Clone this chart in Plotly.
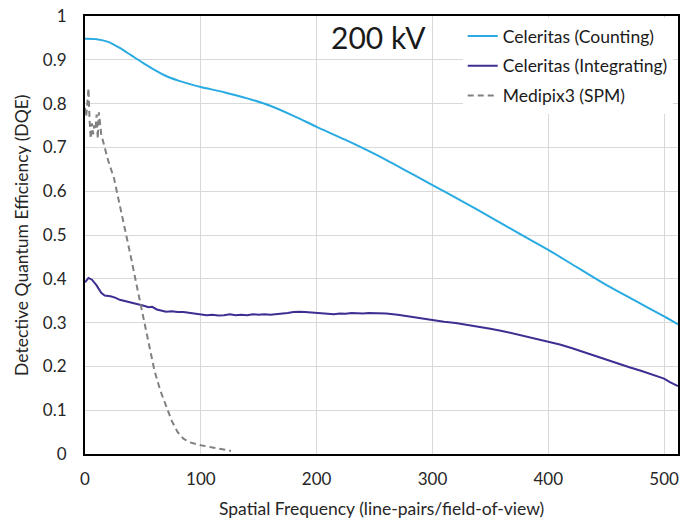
import plotly.graph_objects as go

# Celeritas (Counting)
count_x = [0, 10, 20, 30, 40, 50, 60, 70, 80, 90, 100, 120, 140, 160, 180, 200,
           225, 250, 275, 300, 325, 350, 375, 400, 425, 450, 475, 500, 512]
count_y = [0.948, 0.947, 0.941, 0.927, 0.910, 0.893, 0.877, 0.863, 0.853, 0.845, 0.838,
           0.826, 0.812, 0.795, 0.772, 0.747, 0.717, 0.685, 0.650, 0.614, 0.578, 0.541,
           0.503, 0.466, 0.426, 0.386, 0.350, 0.314, 0.296]

# Celeritas (Integrating)
integ_x = [0, 3, 6, 10, 14, 17, 22, 26, 30, 35, 40, 45, 50, 55, 58, 62, 66, 70, 75, 80,
           85, 90, 95, 100, 105, 110, 115, 120, 125, 130, 135, 140, 145, 150, 155, 160,
           165, 170, 175, 180, 185, 190, 195, 200, 205, 210, 215, 220, 225, 230, 235,
           240, 245, 250, 255, 260, 270, 280, 290, 300, 310, 320, 330, 340, 350, 360,
           370, 380, 390, 400, 410, 420, 430, 440, 450, 460, 470, 480, 490, 495, 500,
           505, 512]
integ_y = [0.392, 0.402, 0.398, 0.385, 0.368, 0.362, 0.360, 0.357, 0.352, 0.349, 0.346,
           0.342, 0.339, 0.335, 0.336, 0.330, 0.327, 0.325, 0.326, 0.324, 0.324, 0.322,
           0.320, 0.318, 0.317, 0.318, 0.316, 0.317, 0.319, 0.317, 0.318, 0.317, 0.319,
           0.318, 0.319, 0.318, 0.319, 0.321, 0.322, 0.324, 0.325, 0.324, 0.323, 0.323,
           0.321, 0.320, 0.319, 0.321, 0.320, 0.322, 0.321, 0.321, 0.322, 0.322, 0.321,
           0.321, 0.318, 0.314, 0.309, 0.305, 0.302, 0.299, 0.295, 0.291, 0.286, 0.281,
           0.275, 0.269, 0.263, 0.257, 0.250, 0.242, 0.233, 0.224, 0.215, 0.207, 0.198,
           0.190, 0.181, 0.176, 0.172, 0.164, 0.155]

# Medipix3 (SPM)
medi_x = [0, 1, 2, 3, 4, 5, 6, 7, 8, 9, 10, 11, 12, 13, 14, 15, 16, 18, 20, 25, 30,
          35, 40, 45, 50, 55, 60, 65, 70, 75, 80, 85, 90, 95, 100, 110, 120, 126]
medi_y = [0.79, 0.77, 0.80, 0.835, 0.76, 0.72, 0.755, 0.73, 0.75, 0.74, 0.775, 0.72,
          0.78, 0.75, 0.73, 0.72, 0.71, 0.69, 0.67, 0.63, 0.57, 0.51, 0.445, 0.38,
          0.315, 0.25, 0.19, 0.145, 0.108, 0.075, 0.05, 0.035, 0.027, 0.023, 0.02,
          0.015, 0.01, 0.007]

x_ticks = [0, 100, 200, 300, 400, 500]
y_ticks = [0, 0.1, 0.2, 0.3, 0.4, 0.5, 0.6, 0.7, 0.8, 0.9, 1]
y_tick_text = ["0", "0.1", "0.2", "0.3", "0.4", "0.5", "0.6", "0.7", "0.8", "0.9", "1"]

x_title = "Spatial Frequency (line-pairs/field-of-view)"
y_title = "Detective Quantum Efficiency (DQE)"

FONT = "Lato, Open Sans, sans-serif"

fig = go.Figure()
fig.add_trace(go.Scatter(x=count_x, y=count_y, mode="lines", name="Celeritas (Counting)",
                         legendgroup="a",
                         line=dict(color="#29abe2", width=2, shape="spline", smoothing=0.8)))
fig.add_trace(go.Scatter(x=integ_x, y=integ_y, mode="lines", name="Celeritas (Integrating)",
                         legendgroup="b",
                         line=dict(color="#3f2e91", width=2)))
fig.add_trace(go.Scatter(x=medi_x, y=medi_y, mode="lines", name="Medipix3 (SPM)",
                         legendgroup="c",
                         line=dict(color="#808080", width=2, dash="6px,4px")))

fig.add_annotation(x=253, y=0.952, text="200 kV", showarrow=False,
                   font=dict(family=FONT, size=30, color="#1a1a1a"))
fig.add_annotation(x=0.5, y=-0.124, xref="paper", yref="paper", text=x_title,
                   showarrow=False, xanchor="center", yanchor="middle",
                   font=dict(family=FONT, size=17.5, color="#262626"))
fig.add_annotation(x=-0.108, y=0.5, xref="paper", yref="paper", text=y_title,
                   showarrow=False, xanchor="center", yanchor="middle", textangle=-90,
                   font=dict(family=FONT, size=17.5, color="#262626"))

fig.update_layout(
    width=692, height=522,
    margin=dict(l=85, r=14, t=16, b=68, autoexpand=False),
    paper_bgcolor="white", plot_bgcolor="white",
    font=dict(family=FONT, size=17, color="#262626"),
    showlegend=True,
    legend=dict(x=0.637, y=0.9954, xanchor="left", yanchor="top",
                bgcolor="white", borderwidth=0,
                font=dict(family=FONT, size=17.5, color="#1a1a1a"),
                traceorder="grouped", tracegroupgap=4, itemwidth=30),
    xaxis=dict(range=[0, 512], tickvals=x_ticks, showgrid=True, gridcolor="#d9d9d9",
               gridwidth=1, zeroline=False, showline=True, linecolor="black",
               linewidth=2, mirror=True, ticks="", ticklabelstandoff=9,
               automargin=False, ticklabeloverflow="allow"),
    yaxis=dict(range=[0, 1], tickvals=y_ticks, ticktext=y_tick_text, showgrid=True,
               gridcolor="#d9d9d9", gridwidth=1, zeroline=False, showline=True,
               linecolor="black", linewidth=2, mirror=True, ticks="",
               ticklabelstandoff=13, automargin=False, ticklabeloverflow="allow"),
)

fig.write_html("out.html", config={"displayModeBar": False},
               post_script="document.body.style.margin='0';document.body.style.overflow='hidden';")
